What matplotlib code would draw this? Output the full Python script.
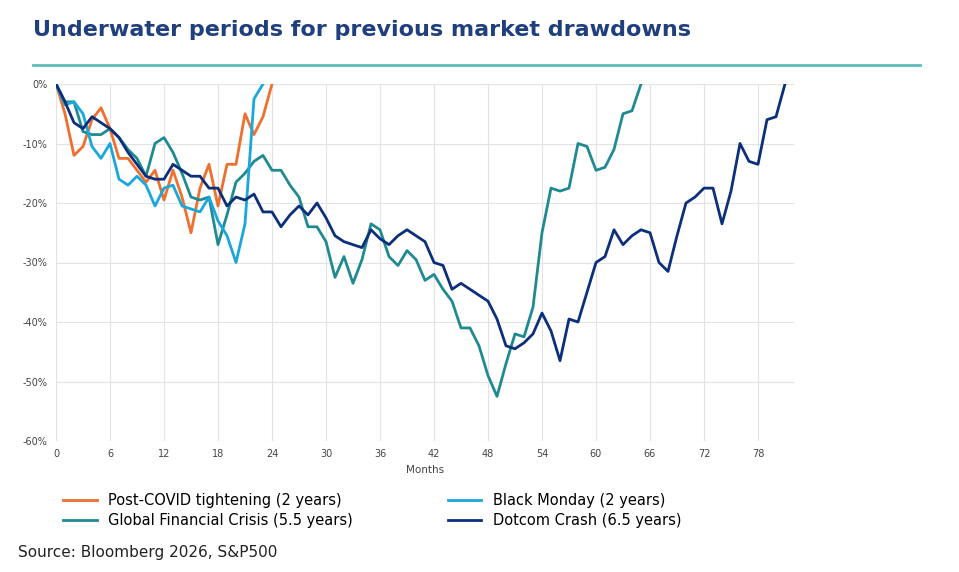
import numpy as np
import matplotlib.pyplot as plt

covid = [0, -5, -12, -10.5, -6, -4, -7.5, -12.5, -12.5, -14.5, -16.5, -14.5, -19.5, -14.5, -19, -25,
         -17.5, -13.5, -20.5, -13.5, -13.5, -5, -8.5, -5.5, 0]
black_monday = [0, -3.5, -3, -5, -10.5, -12.5, -10, -16, -17, -15.5, -17, -20.5, -17.5, -17, -20.5, -21,
                -21.5, -19, -23, -25.5, -30, -23.5, -2.5, 0]
gfc = [0, -3, -3, -8, -8.5, -8.5, -7.5, -9, -11, -12.5, -15.5, -10, -9, -11.5, -15, -19, -19.5, -19, -27,
       -22, -16.5, -15, -13, -12, -14.5, -14.5, -17, -19, -24, -24, -26.5, -32.5, -29, -33.5, -29.5, -23.5,
       -24.5, -29, -30.5, -28, -29.5, -33, -32, -34.5, -36.5, -41, -41, -44, -49, -52.5, -47, -42, -42.5,
       -37.5, -25, -17.5, -18, -17.5, -10, -10.5, -14.5, -14, -11, -5, -4.5, 0]
dotcom = [0, -3, -6.5, -7.5, -5.5, -6.5, -7.5, -9, -11.5, -13.5, -15.5, -16, -16, -13.5, -14.5, -15.5,
          -15.5, -17.5, -17.5, -20.5, -19, -19.5, -18.5, -21.5, -21.5, -24, -22, -20.5, -22, -20, -22.5,
          -25.5, -26.5, -27, -27.5, -24.5, -26, -27, -25.5, -24.5, -25.5, -26.5, -30, -30.5, -34.5, -33.5,
          -34.5, -35.5, -36.5, -39.5, -44, -44.5, -43.5, -42, -38.5, -41.5, -46.5, -39.5, -40, -35, -30,
          -29, -24.5, -27, -25.5, -24.5, -25, -30, -31.5, -25.5, -20, -19, -17.5, -17.5, -23.5, -18, -10,
          -13, -13.5, -6, -5.5, 0]

series = [
    ("Post-COVID tightening (2 years)", covid, "#ef6f2e"),
    ("Global Financial Crisis (5.5 years)", gfc, "#1f8a92"),
    ("Black Monday (2 years)", black_monday, "#1aa7dc"),
    ("Dotcom Crash (6.5 years)", dotcom, "#0b2f7a"),
]

fig = plt.figure(figsize=(9.59, 5.72), dpi=100)
ax = fig.add_axes([56 / 959, 1 - 441 / 572, (82 * 9) / 959, (441 - 84) / 572])

for name, vals, col in series:
    ax.plot(np.arange(len(vals)), vals, color=col, lw=2, label=name)

ax.set_xlim(0, 82)
ax.set_ylim(-60, 0)
ax.set_xticks(range(0, 79, 6))
ax.set_yticks(range(-60, 1, 10))
ax.set_yticklabels([f"{v}%" for v in range(-60, 1, 10)])
ax.tick_params(labelsize=7, colors="#444444", length=0, pad=6)
ax.grid(color="#e3e3e3", lw=0.8)
for s in ax.spines.values():
    s.set_visible(False)
ax.set_xlabel("Months", fontsize=7.5, color="#444444", labelpad=4)

h, l = ax.get_legend_handles_labels()
fig.legend(h, l, loc="upper left", bbox_to_anchor=(50 / 959, 1 - 480 / 572), ncol=2, frameon=False,
           fontsize=10.5, handlelength=2.3, columnspacing=6.5, labelspacing=0.35)

fig.text(33 / 959, 1 - 30 / 572, "Underwater periods for previous market drawdowns", fontsize=16,
         fontweight="bold", color="#1f3f7f", va="center")
fig.add_artist(plt.Line2D([33 / 959, 920 / 959], [1 - 65 / 572] * 2, color="#5fbcb8", lw=2))
fig.text(18 / 959, 1 - 552 / 572, "Source: Bloomberg 2026, S&P500", fontsize=11, color="#222222",
         va="center")

fig.savefig("out.png", dpi=100)
